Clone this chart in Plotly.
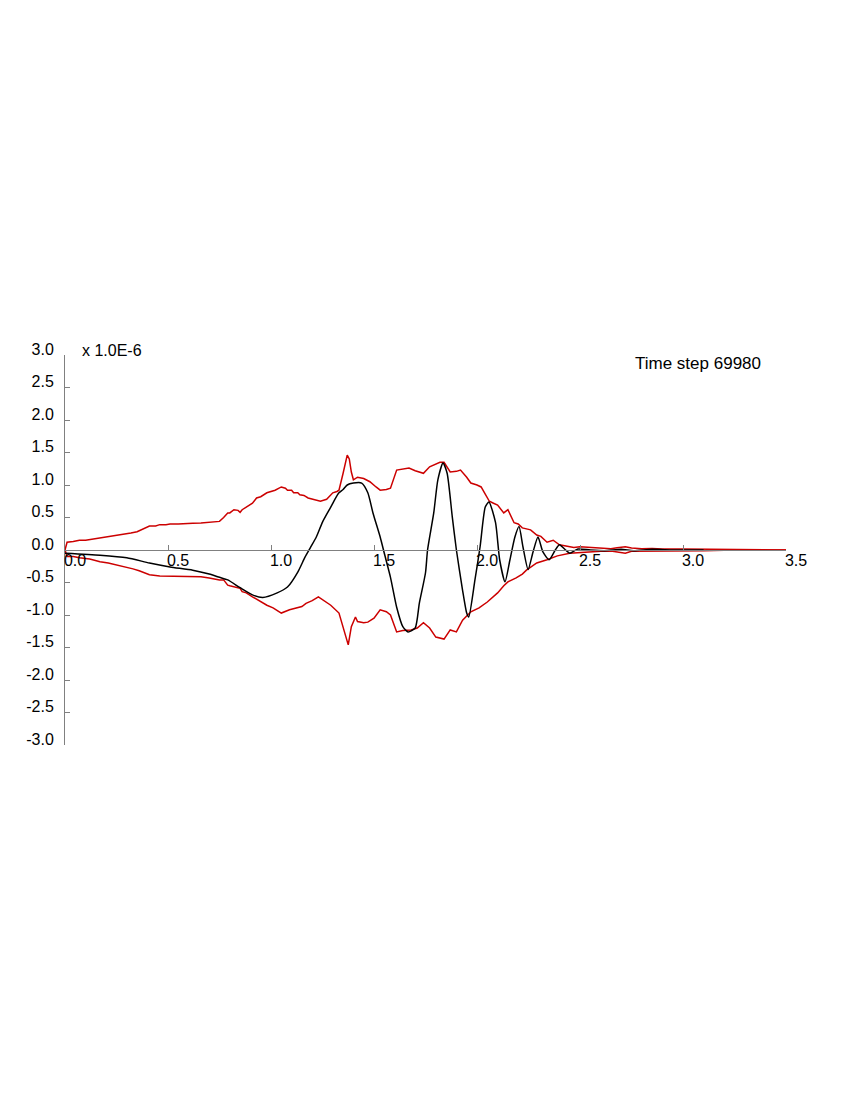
import plotly.graph_objects as go

# ---- data (units of 1.0E-6) ----
upper_x = [0.0, 0.01, 0.04, 0.07, 0.10, 0.12, 0.15, 0.17, 0.21, 0.24, 0.28, 0.32, 0.35, 0.37, 0.39, 0.41,
           0.44, 0.46, 0.49, 0.51, 0.55, 0.58, 0.62, 0.66, 0.68, 0.70, 0.73, 0.75,
           0.77, 0.79, 0.80, 0.82, 0.84, 0.85, 0.86, 0.88, 0.91, 0.93, 0.95, 0.98, 1.0, 1.02, 1.05, 1.07,
           1.08, 1.10, 1.11, 1.13, 1.14, 1.16, 1.18, 1.21, 1.24,
           1.27, 1.29, 1.30, 1.32, 1.33, 1.35, 1.37, 1.38, 1.39, 1.40, 1.42, 1.45, 1.48, 1.51, 1.53, 1.56, 1.58,
           1.61, 1.64, 1.67, 1.70, 1.74, 1.77, 1.79, 1.82, 1.84, 1.87, 1.90, 1.92, 1.95, 1.97, 2.00, 2.02,
           2.04, 2.06, 2.08, 2.10, 2.13, 2.15, 2.18, 2.20, 2.22, 2.26, 2.29,
           2.31, 2.34, 2.37, 2.40, 2.44, 2.47, 2.50, 2.52, 2.56, 2.60, 2.65, 2.68, 2.70, 2.72, 2.75, 2.80,
           2.85, 2.90, 3.00, 3.10, 3.20, 3.30, 3.40, 3.50]
upper_y = [0.0, 0.12, 0.13, 0.15, 0.15, 0.16, 0.17, 0.18, 0.20, 0.22, 0.23, 0.26, 0.28, 0.31, 0.33, 0.37,
           0.37, 0.39, 0.39, 0.40, 0.40, 0.40, 0.41, 0.415, 0.42, 0.42, 0.43, 0.44,
           0.50, 0.57, 0.57, 0.62, 0.61, 0.58, 0.62, 0.66, 0.72, 0.80, 0.82, 0.88, 0.90, 0.92, 0.97, 0.95,
           0.92, 0.92, 0.88, 0.88, 0.85, 0.84, 0.80, 0.78, 0.75,
           0.78, 0.84, 0.88, 0.90, 0.92, 1.18, 1.46, 1.40, 1.20, 1.08, 1.12, 1.10, 1.05, 0.97, 0.92, 0.93, 0.95,
           1.23, 1.25, 1.26, 1.22, 1.18, 1.28, 1.31, 1.35, 1.35, 1.20, 1.21, 1.23, 1.12, 1.03, 1.00, 0.97,
           0.86, 0.75, 0.72, 0.69, 0.57, 0.62, 0.42, 0.40, 0.34, 0.31, 0.23,
           0.21, 0.12, 0.15, 0.08, 0.06, 0.04, 0.05, 0.045, 0.04, 0.03, 0.02, 0.035, 0.04, 0.05, 0.03, 0.02,
           0.025, 0.015, 0.015, 0.01, 0.005, 0.0, 0.005, 0.0]

lower_x = [0.0, 0.01, 0.04, 0.07, 0.12, 0.17, 0.21, 0.24, 0.27, 0.30, 0.33, 0.36, 0.41, 0.46, 0.50, 0.55, 0.62,
           0.66, 0.70, 0.75, 0.77, 0.79,
           0.80, 0.83, 0.85, 0.86, 0.88, 0.91, 0.93, 0.95, 0.98, 1.01, 1.05, 1.09, 1.13, 1.15, 1.17, 1.20, 1.23,
           1.26, 1.29, 1.33, 1.35, 1.375, 1.39,
           1.41, 1.42, 1.45, 1.47, 1.50, 1.53, 1.56, 1.58, 1.61, 1.64, 1.68, 1.71, 1.74, 1.77, 1.80, 1.84, 1.87,
           1.90, 1.93, 1.97,
           2.01, 2.05, 2.08, 2.10, 2.13, 2.15, 2.19, 2.22, 2.24, 2.29, 2.34, 2.39, 2.45, 2.53, 2.60, 2.65, 2.70,
           2.72, 2.75, 2.80, 2.90, 3.00, 3.10, 3.20, 3.30, 3.40, 3.50]
lower_y = [0.0, -0.10, -0.10, -0.12, -0.14, -0.18, -0.20, -0.22, -0.24, -0.26, -0.29, -0.32, -0.38, -0.40, -0.40,
           -0.40, -0.40, -0.41, -0.43, -0.46, -0.46, -0.54,
           -0.55, -0.57, -0.59, -0.64, -0.66, -0.72, -0.76, -0.80, -0.85, -0.89, -0.97, -0.92, -0.88, -0.87, -0.82,
           -0.78, -0.72, -0.78, -0.85, -0.97, -1.18, -1.46, -1.18,
           -1.03, -1.10, -1.12, -1.11, -1.05, -0.92, -0.95, -1.00, -1.26, -1.24, -1.23, -1.20, -1.12, -1.20, -1.34,
           -1.37, -1.23, -1.26, -1.08, -0.95,
           -0.89, -0.80, -0.72, -0.66, -0.55, -0.49, -0.43, -0.37, -0.31, -0.20, -0.15, -0.09, -0.05, -0.03, -0.02,
           -0.015, -0.04, -0.05, -0.02, -0.02, -0.015, -0.01, -0.01, -0.005, -0.01, -0.005, 0.0]

wave_x = [0.0, 0.17, 0.30, 0.41, 0.51, 0.62, 0.70, 0.75, 0.79, 0.85, 0.91, 0.96, 1.03, 1.08, 1.13, 1.165,
          1.19, 1.22, 1.25, 1.29, 1.31, 1.33, 1.35, 1.37, 1.40, 1.44, 1.47, 1.495, 1.53, 1.55, 1.58,
          1.61, 1.64, 1.665, 1.70, 1.72, 1.75, 1.76, 1.79, 1.81, 1.835, 1.855, 1.88, 1.90, 1.93, 1.95,
          1.96, 1.99, 2.015, 2.04, 2.058, 2.09, 2.11, 2.136, 2.16, 2.184, 2.204, 2.223, 2.248, 2.272,
          2.296, 2.32, 2.35, 2.38, 2.40, 2.43, 2.45, 2.49, 2.55, 2.62, 2.70, 2.76, 2.85, 2.95, 3.05, 3.10]
wave_y = [-0.05, -0.08, -0.12, -0.20, -0.26, -0.31, -0.37, -0.42, -0.46, -0.58, -0.69, -0.73, -0.66, -0.57, -0.34, -0.11,
          0.03, 0.20, 0.43, 0.66, 0.78, 0.88, 0.93, 1.00, 1.03, 1.03, 0.88, 0.57, 0.20, -0.05, -0.42,
          -0.88, -1.18, -1.26, -1.20, -0.82, -0.35, 0.0, 0.57, 1.08, 1.34, 1.18, 0.51, 0.0, -0.62, -0.97,
          -1.03, -0.46, 0.05, 0.66, 0.74, 0.42, -0.15, -0.49, -0.15, 0.20, 0.36, 0.05, -0.30, -0.03,
          0.20, -0.03, -0.15, 0.0, 0.08, 0.0, -0.05, 0.015, 0.0, -0.01, 0.01, -0.01, 0.01, 0.0, 0.0, 0.0]

x_ticks = [0.0, 0.5, 1.0, 1.5, 2.0, 2.5, 3.0, 3.5]
y_ticks = [-3.0, -2.5, -2.0, -1.5, -1.0, -0.5, 0.0, 0.5, 1.0, 1.5, 2.0, 2.5, 3.0]
scale_label = "x 1.0E-6"
step_label = "Time step 69980"

RED = "rgb(204,0,0)"
AXIS = "rgb(128,128,128)"
FONT = "Liberation Sans, Arial, sans-serif"

fig = go.Figure()
fig.add_trace(go.Scatter(x=upper_x, y=upper_y, mode="lines",
                         line=dict(color=RED, width=1.5), hoverinfo="skip"))
fig.add_trace(go.Scatter(x=lower_x, y=lower_y, mode="lines",
                         line=dict(color=RED, width=1.5), hoverinfo="skip"))
fig.add_trace(go.Scatter(x=wave_x, y=wave_y, mode="lines",
                         line=dict(color="black", width=1.5, shape="spline", smoothing=0.6),
                         hoverinfo="skip"))

# page body has an 8px default margin, so margins are reduced by 8px on left/top
fig.update_layout(
    width=850, height=1100,
    margin=dict(l=57, r=72, t=347, b=363),
    paper_bgcolor="white", plot_bgcolor="white",
    showlegend=False,
    font=dict(family=FONT, size=16, color="black"),
    xaxis=dict(range=[0, 3.5], showgrid=False, zeroline=False, automargin=False,
               showline=True, linecolor=AXIS, linewidth=1,
               anchor="free", position=0.5,
               ticks="inside", ticklen=5, tickcolor=AXIS, tickwidth=1,
               tickvals=x_ticks, ticktext=[f"{v:.1f}" for v in x_ticks],
               ticklabelshift=10, ticklabelstandoff=-4,
               tickfont=dict(family=FONT, size=16, color="black")),
    yaxis=dict(range=[-3, 3], showgrid=False, zeroline=False, automargin=False,
               showline=True, linecolor=AXIS, linewidth=1,
               ticks="inside", ticklen=5, tickcolor=AXIS, tickwidth=1,
               tickvals=y_ticks, ticktext=[f"{v:.1f}" for v in y_ticks],
               ticklabelshift=-6, ticklabelstandoff=7,
               tickfont=dict(family=FONT, size=16, color="black")),
    annotations=[
        dict(text=scale_label, xref="paper", yref="paper", x=0.0208, y=1.0128,
             xanchor="left", yanchor="middle", showarrow=False,
             font=dict(family=FONT, size=16, color="black")),
        dict(text=step_label, xref="paper", yref="paper", x=0.788, y=0.979,
             xanchor="left", yanchor="middle", showarrow=False,
             font=dict(family=FONT, size=17, color="black")),
    ],
)

fig.write_html("out.html")
